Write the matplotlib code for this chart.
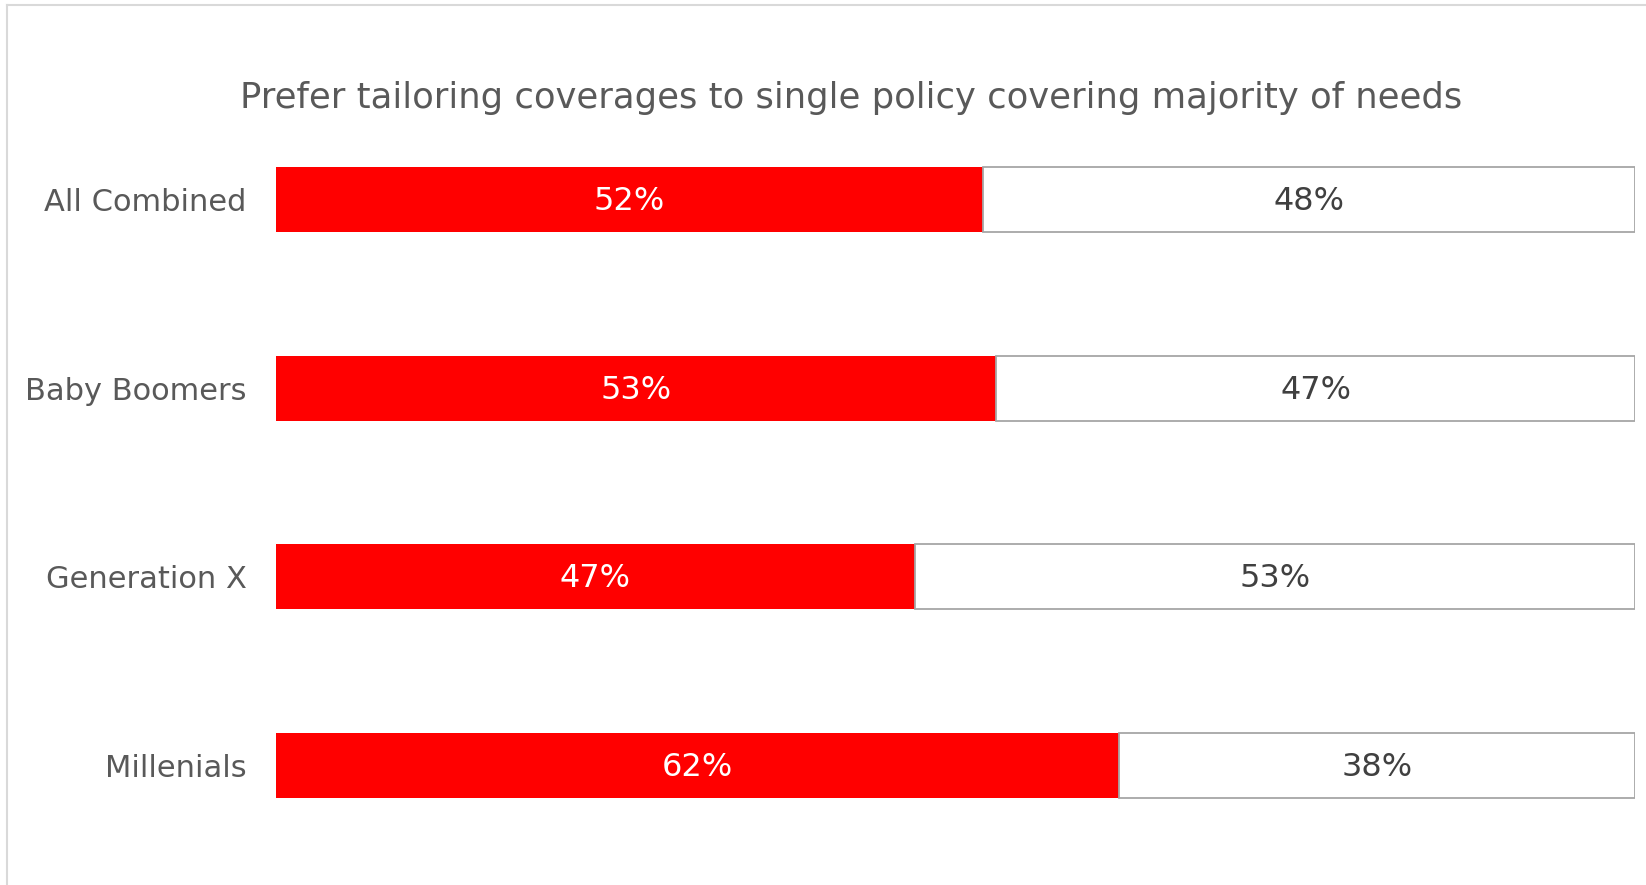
import matplotlib
matplotlib.use("Agg")
import matplotlib.pyplot as plt
from matplotlib.lines import Line2D

categories = ["All Combined", "Baby Boomers", "Generation X", "Millenials"]
prefer_tailoring = [52, 53, 47, 62]
prefer_single = [48, 47, 53, 38]
title = "Prefer tailoring coverages to single policy covering majority of needs"

plt.rcParams["font.family"] = ["DejaVu Sans"]
text_grey = "#595959"

W, H = 1646, 885
fig = plt.figure(figsize=(W / 100, H / 100), dpi=100)
fig.patch.set_facecolor("white")

# plot area in pixel terms
left_px, right_px = 276, 1635
top_px, bottom_px = 105, 860
ax = fig.add_axes([left_px / W, 1 - bottom_px / H,
                   (right_px - left_px) / W, (bottom_px - top_px) / H])

y = list(range(len(categories)))
bar_h = 0.344
ax.barh(y, prefer_tailoring, height=bar_h, color="#FF0000", edgecolor="none")
ax.barh(y, prefer_single, left=prefer_tailoring, height=bar_h, color="white",
        edgecolor="#A6A6A6", linewidth=1.3)

for yi, a, b in zip(y, prefer_tailoring, prefer_single):
    ax.text(a / 2, yi + 0.01, f"{a}%", ha="center", va="center",
            color="white", fontsize=23)
    ax.text(a + b / 2, yi + 0.01, f"{b}%", ha="center", va="center",
            color="#404040", fontsize=23)

ax.set_xlim(0, 100)
ax.set_ylim(len(categories) - 0.5, -0.5)
ax.set_yticks(y)
ax.set_yticklabels(categories, fontsize=22, color=text_grey)
ax.tick_params(axis="y", length=0, pad=21)
ax.set_xticks([])
for s in ax.spines.values():
    s.set_visible(False)
ax.patch.set_alpha(0)

fig.text(851 / W, 1 - 98 / H, title, ha="center", va="center",
         fontsize=25.5, color=text_grey)

# outer frame edges
fig.add_artist(Line2D([7 / W, 7 / W], [0, 1 - 5 / H], transform=fig.transFigure,
                      color="#D9D9D9", linewidth=1.5))
fig.add_artist(Line2D([7 / W, 1], [1 - 5 / H, 1 - 5 / H], transform=fig.transFigure,
                      color="#D9D9D9", linewidth=1.5))

fig.savefig("out.png", dpi=100, facecolor="white")
